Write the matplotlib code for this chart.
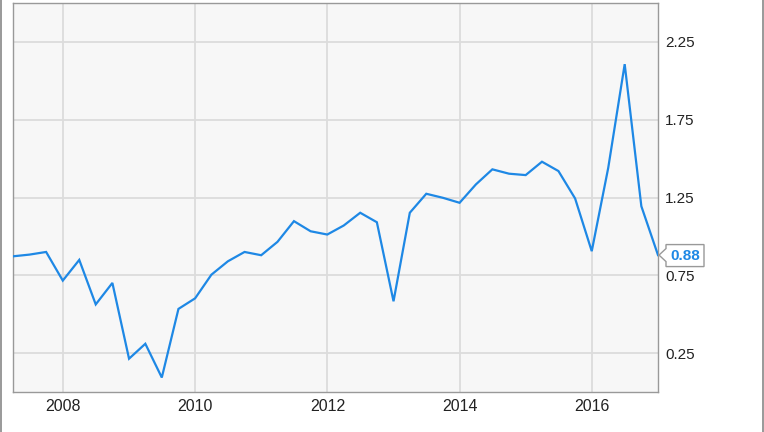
import matplotlib
matplotlib.use("Agg")
import matplotlib.pyplot as plt
import matplotlib.dates as mdates
import matplotlib.transforms as mtransforms
from matplotlib.lines import Line2D
from matplotlib.patches import Polygon
import pandas as pd

plt.rcParams['font.family'] = ['Liberation Sans', 'DejaVu Sans']

dates = pd.date_range('2007-03-31', periods=40, freq='QE')
values = [0.872, 0.883, 0.90, 0.716,
          0.849, 0.563, 0.701, 0.214,
          0.31, 0.093, 0.534, 0.602,
          0.754, 0.84, 0.90, 0.879,
          0.965, 1.098, 1.033, 1.012,
          1.07, 1.152, 1.091, 0.583,
          1.152, 1.274, 1.248, 1.216,
          1.334, 1.431, 1.403, 1.394,
          1.48, 1.42, 1.244, 0.905,
          1.44, 2.107, 1.194, 0.88]
ytick_vals = [0.25, 0.75, 1.25, 1.75, 2.25]
xtick_years = [2008, 2010, 2012, 2014, 2016]
last_label = "0.88"

line_color = '#1E88E5'

fig = plt.figure(figsize=(7.64, 4.32), dpi=100)
ax = fig.add_axes([13/764, 1-392/432, (658-13)/764, (392-3)/432])
ax.set_facecolor('#f7f7f7')

ax.plot(dates, values, color=line_color, lw=1.6, solid_joinstyle='miter', zorder=3)

ax.set_xlim(dates[0], dates[-1])
ax.set_ylim(0, 2.5)

ax.set_xticks([pd.Timestamp(f'{y}-01-01') for y in xtick_years])
ax.xaxis.set_major_formatter(mdates.DateFormatter('%Y'))
ax.set_yticks(ytick_vals)
ax.set_yticklabels([f'{v:.2f}' for v in ytick_vals])
ax.yaxis.tick_right()
ax.tick_params(axis='both', length=0, labelcolor='#222222')
ax.tick_params(axis='x', pad=5, labelsize=11.5)
ax.tick_params(axis='y', pad=5, labelsize=11)
for lab in ax.get_yticklabels():
    lab.set_horizontalalignment('left')

ax.grid(True, color='#dcdcdc', lw=1.3, zorder=0)
for s in ax.spines.values():
    s.set_color('#999999')
    s.set_linewidth(1.0)

# last value callout (box with a left-pointing notch)
tip = ax.transData.transform((mdates.date2num(dates[-1]), values[-1]))
tx, ty = tip
verts = [(tx + 1, ty), (tx + 8, ty + 6.5), (tx + 8, ty + 10.5), (tx + 46, ty + 10.5),
         (tx + 46, ty - 11.5), (tx + 8, ty - 11.5), (tx + 8, ty - 6.5)]
callout = Polygon(verts, closed=True, transform=mtransforms.IdentityTransform(),
                  fc='white', ec='#999999', lw=1.0, zorder=6, clip_on=False)
fig.add_artist(callout)
fig.text(tx + 27, ty - 1, last_label, transform=mtransforms.IdentityTransform(),
         ha='center', va='center', fontsize=11, fontweight='bold',
         color=line_color, zorder=7)

# figure side borders
fig.add_artist(Line2D([1/764, 1/764], [0, 1], color='#888888', lw=1.2))
fig.add_artist(Line2D([763/764, 763/764], [0, 1], color='#888888', lw=1.2))

fig.savefig('out.png', dpi=100)
